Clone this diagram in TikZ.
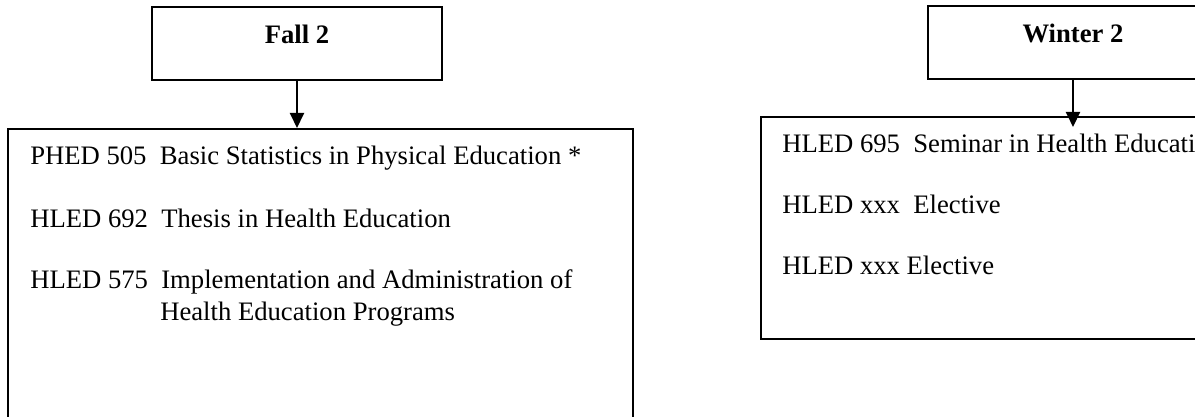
\documentclass[tikz,border=0pt]{standalone}
\usepackage{fontspec}
\setmainfont{Liberation Serif}
\usetikzlibrary{arrows.meta}
\begin{document}
\begin{tikzpicture}[x=0.75pt,y=-0.75pt,
  box/.style={draw=black,line width=1.5pt,rectangle,inner sep=0pt},
  hdr/.style={box,minimum width=217.5pt,minimum height=54.75pt,
    text height=10pt,text depth=10pt,font=\fontsize{20}{23.5}\selectfont\bfseries},
  course/.style={anchor=base west,inner sep=0pt,font=\fontsize{20}{23.5}\selectfont},
  arr/.style={line width=1.5pt,-{Triangle[length=11.25pt,width=10.5pt]}}]
\path[use as bounding box] (0,0) rectangle (1195,417);
\clip (0,0) rectangle (1195,417);
% header boxes
\node[hdr] (fall) at (297,43.5) {Fall 2};
\node[hdr] (winter) at (1073,43) {Winter 2};
% content boxes
\node[box,minimum width=468.75pt,minimum height=263.25pt] (fallbox) at (320.5,304.5) {};
\node[box,minimum width=471.75pt,minimum height=166.5pt] (winterbox) at (1075.5,228) {};
% arrows
\draw[arr] (fall.south) -- (fall.south |- fallbox.north);
\draw[arr] (winter.south) -- ([yshift=-8.25pt]winter.south |- winterbox.north);
% left courses
\node[course] (c1) at (30,165) {PHED 505\ \ Basic Statistics in Physical Education *};
\node[course] (c2) at (30,227) {HLED 692\ \ Thesis in Health Education};
\node[course] (c3) at (30,288) {HLED 575\ \ Implementation and Administration of};
\node[course] (c3b) at (160,320) {Health Education Programs};
% right courses
\node[course] (d1) at (782,152) {HLED 695\ \ Seminar in Health Educati};
\node[course] (d2) at (782,213) {HLED xxx\ \ Elective};
\node[course] (d3) at (782,274) {HLED xxx Elective};
\end{tikzpicture}
\end{document}
